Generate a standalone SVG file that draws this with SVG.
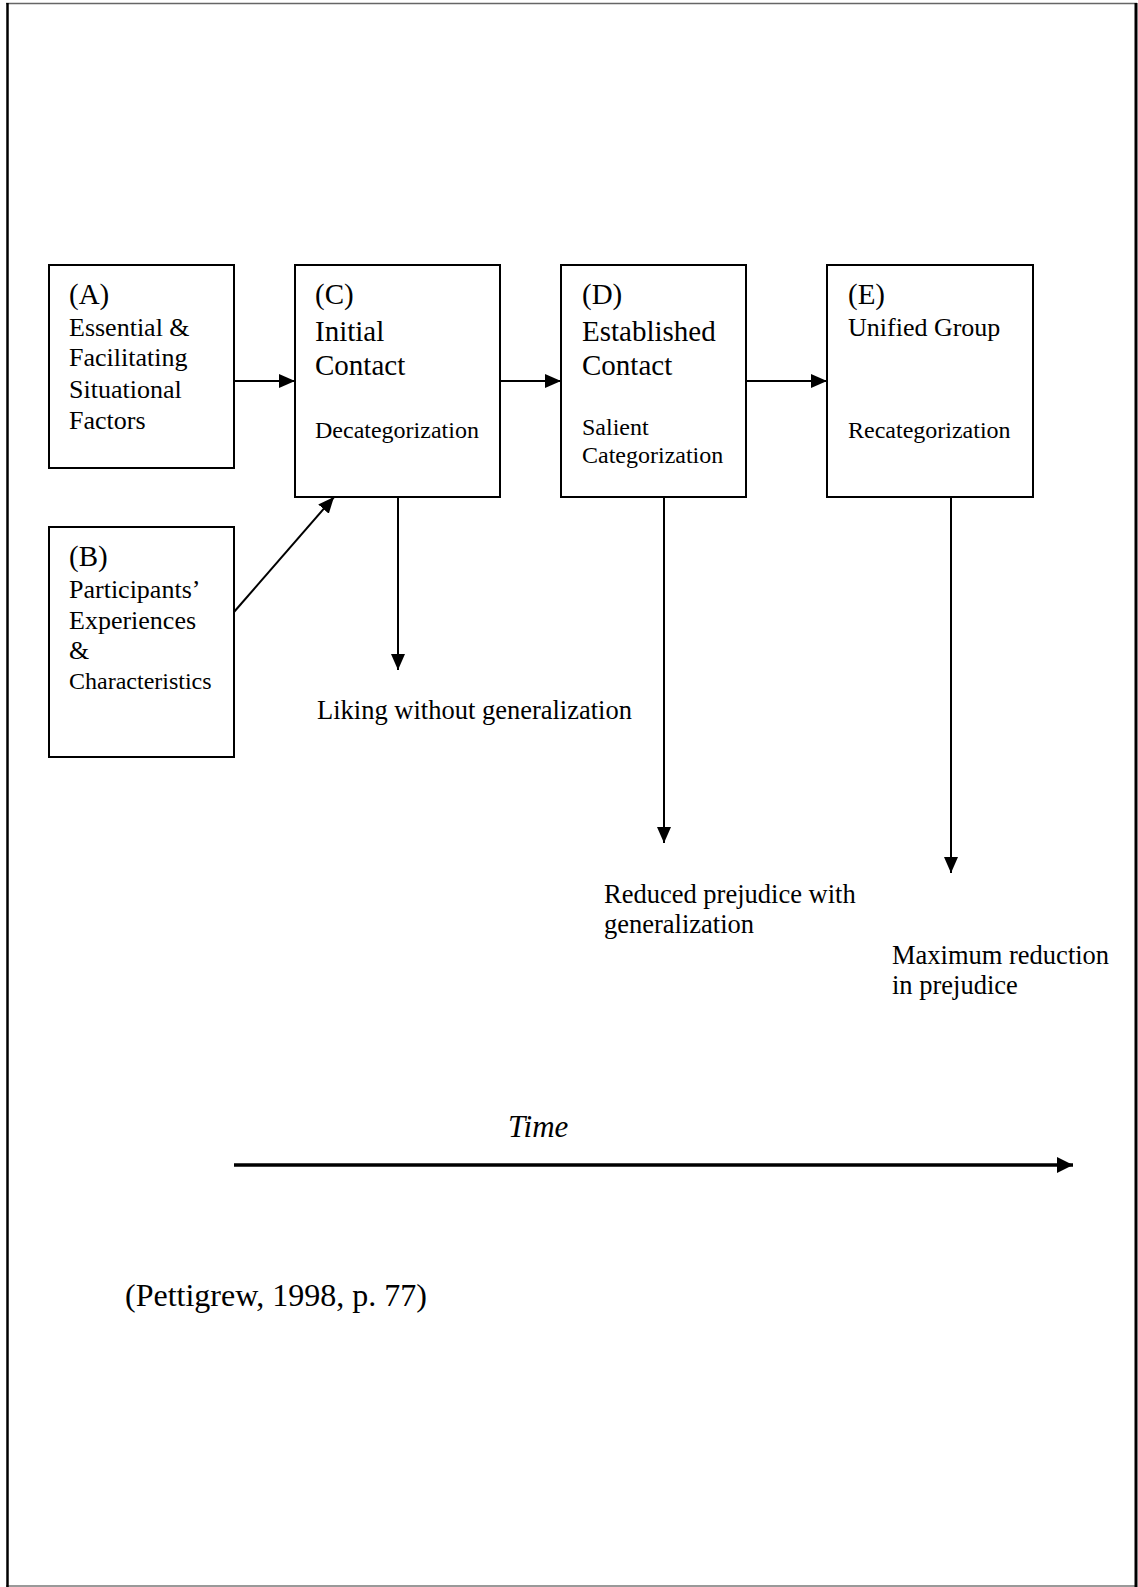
<svg xmlns="http://www.w3.org/2000/svg" width="1138" height="1587" viewBox="0 0 1138 1587">
<style>
.box{fill:#fff;stroke:#000;stroke-width:2}
text{font-family:"Liberation Serif","Times New Roman",serif;fill:#000}
.lab{font-size:29px}
.big{font-size:29px}
.mid{font-size:26px}
.sm{font-size:24px}
.out{font-size:26.5px}
.conn{stroke:#000;stroke-width:2;fill:none}
</style>
<defs>
<marker id="ah" markerUnits="userSpaceOnUse" markerWidth="16" markerHeight="14" viewBox="0 0 16 14" refX="16" refY="7" orient="auto">
<path d="M0,0 L16,7 L0,14 Z" fill="#000"/>
</marker>
<marker id="ahT" markerUnits="userSpaceOnUse" markerWidth="16" markerHeight="16" viewBox="0 0 16 16" refX="16" refY="8" orient="auto">
<path d="M0,0 L16,8 L0,16 Z" fill="#000"/>
</marker>
</defs>
<rect x="7" y="3" width="1129" height="1583" fill="#fff"/>
<line x1="6" y1="3.5" x2="1137" y2="3.5" stroke="#666" stroke-width="1.5"/>
<line x1="6" y1="1586" x2="1137" y2="1586" stroke="#777" stroke-width="1.5"/>
<line x1="7.5" y1="3" x2="7.5" y2="1587" stroke="#000" stroke-width="2.5"/>
<line x1="1136" y1="3" x2="1136" y2="1587" stroke="#000" stroke-width="3"/>

<g id="nodeA">
<rect class="box" x="49" y="265" width="185" height="203"/>
<text class="lab" x="69" y="304">(A)</text>
<text class="mid" x="69" y="336">Essential &amp;</text>
<text class="mid" x="69" y="366">Facilitating</text>
<text class="mid" x="69" y="398">Situational</text>
<text class="mid" x="69" y="429">Factors</text>
</g>
<g id="nodeB">
<rect class="box" x="49" y="527" width="185" height="230"/>
<text class="lab" x="69" y="566">(B)</text>
<text class="mid" x="69" y="598">Participants’</text>
<text class="mid" x="69" y="629">Experiences</text>
<text class="mid" x="69" y="659">&amp;</text>
<text class="sm" x="69" y="689">Characteristics</text>
</g>
<g id="nodeC">
<rect class="box" x="295" y="265" width="205" height="232"/>
<text class="lab" x="315" y="304">(C)</text>
<text class="big" x="315" y="341">Initial</text>
<text class="big" x="315" y="375">Contact</text>
<text class="sm" x="315" y="438">Decategorization</text>
</g>
<g id="nodeD">
<rect class="box" x="561" y="265" width="185" height="232"/>
<text class="lab" x="582" y="304">(D)</text>
<text class="big" x="582" y="341">Established</text>
<text class="big" x="582" y="375">Contact</text>
<text class="sm" x="582" y="435">Salient</text>
<text class="sm" x="582" y="463">Categorization</text>
</g>
<g id="nodeE">
<rect class="box" x="827" y="265" width="206" height="232"/>
<text class="lab" x="848" y="304">(E)</text>
<text class="mid" x="848" y="336">Unified Group</text>
<text class="sm" x="848" y="438">Recategorization</text>
</g>

<g id="connectors">
<line class="conn" x1="234" y1="381" x2="295" y2="381" marker-end="url(#ah)"/>
<line class="conn" x1="500" y1="381" x2="561" y2="381" marker-end="url(#ah)"/>
<line class="conn" x1="746" y1="381" x2="827" y2="381" marker-end="url(#ah)"/>
<line class="conn" x1="234" y1="612" x2="334" y2="497" marker-end="url(#ah)"/>
<line class="conn" x1="398" y1="497" x2="398" y2="670" marker-end="url(#ah)"/>
<line class="conn" x1="664" y1="497" x2="664" y2="843" marker-end="url(#ah)"/>
<line class="conn" x1="951" y1="497" x2="951" y2="873" marker-end="url(#ah)"/>
<line x1="234" y1="1165" x2="1073" y2="1165" stroke="#000" stroke-width="3.5" marker-end="url(#ahT)"/>
</g>

<g id="outcomes">
<text class="out" x="317" y="719">Liking without generalization</text>
<text class="out" x="604" y="903">Reduced prejudice with</text>
<text class="out" x="604" y="933">generalization</text>
<text class="out" x="892" y="964">Maximum reduction</text>
<text class="out" x="892" y="994">in prejudice</text>
</g>

<text x="508" y="1137" font-size="31" font-style="italic">Time</text>
<text x="125" y="1306" font-size="32">(Pettigrew, 1998, p. 77)</text>
</svg>
